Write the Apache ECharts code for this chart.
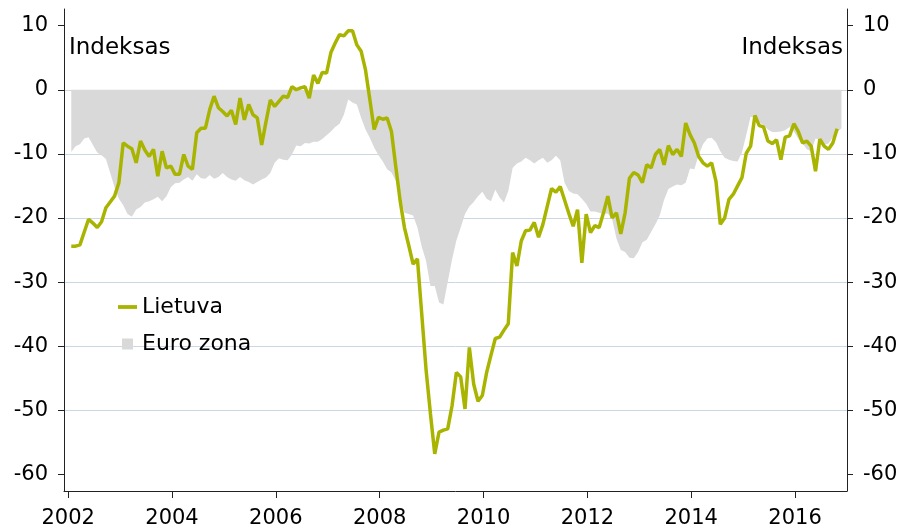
<!DOCTYPE html>
<html>
<head>
<meta charset="utf-8">
<script src="https://cdn.jsdelivr.net/npm/echarts@6/dist/echarts.min.js"></script>
<style>
  html, body { margin: 0; padding: 0; background: #fff; }
  #chart { width: 904px; height: 530px; }
</style>
</head>
<body>
<div id="chart"></div>
<script>
// monthly series, first observation January 2002
const startYear = 2002;
const monthShift = 0.06;

const lietuva = [
  -24.4, -24.4, -24.2, -22.2, -20.2, -20.8, -21.5, -20.6, -18.4, -17.5, -16.6, -14.5,
  -8.3, -8.8, -9.2, -11.4, -8.0, -9.4, -10.4, -9.3, -13.5, -9.6, -12.2, -11.9,
  -13.2, -13.2, -10.1, -11.9, -12.4, -6.7, -6.0, -6.0, -3.1, -1.0, -2.8, -3.4,
  -4.1, -3.2, -5.4, -1.3, -4.7, -2.3, -3.9, -4.4, -8.6, -5.0, -1.6, -2.6,
  -1.8, -1.0, -1.2, 0.5, 0.0, 0.3, 0.5, -1.3, 2.3, 1.0, 2.7, 2.6,
  5.8, 7.3, 8.6, 8.4, 9.2, 9.2, 7.0, 6.0, 3.1, -1.5, -6.2, -4.3,
  -4.6, -4.4, -6.5, -12.0, -17.3, -21.5, -24.3, -27.2, -26.4, -35.0, -43.7, -50.5,
  -56.8, -53.4, -53.1, -52.9, -49.3, -44.1, -44.8, -49.8, -40.2, -45.9, -48.6, -47.7,
  -44.1, -41.4, -38.8, -38.6, -37.5, -36.5, -25.4, -27.5, -23.6, -22.0, -21.9, -20.7,
  -23.0, -21.0, -18.2, -15.4, -16.0, -15.1, -17.2, -19.3, -21.3, -18.7, -27.0, -19.4,
  -22.3, -21.2, -21.5, -19.2, -16.6, -20.0, -19.2, -22.5, -19.2, -13.8, -12.9, -13.3,
  -14.5, -11.7, -12.2, -10.1, -9.3, -11.7, -8.7, -10.1, -9.3, -10.4, -5.2, -7.0,
  -8.3, -10.4, -11.4, -11.9, -11.4, -14.3, -21.0, -20.0, -17.1, -16.3, -15.0, -13.7,
  -9.9, -8.8, -4.0, -5.6, -5.8, -8.0, -8.4, -7.8, -10.9, -7.4, -7.2, -5.3,
  -6.5, -8.3, -8.0, -8.8, -12.7, -7.7, -8.8, -9.3, -8.3, -6.1
];

const euroZona = [
  -9.7, -8.8, -8.5, -7.6, -7.4, -8.6, -9.8, -10.2, -10.8, -13.0, -15.2, -17.0,
  -18.0, -19.4, -19.8, -18.7, -18.3, -17.6, -17.4, -17.1, -16.7, -17.4, -16.6, -15.2,
  -14.6, -14.5, -14.0, -13.6, -14.2, -13.2, -13.8, -13.9, -13.3, -13.9, -13.6, -13.0,
  -13.6, -14.0, -14.2, -13.6, -14.1, -14.4, -14.8, -14.4, -14.0, -13.7, -13.0, -11.4,
  -10.7, -10.9, -11.0, -10.1, -8.7, -8.8, -8.3, -8.4, -8.1, -8.1, -7.7, -7.1,
  -6.5, -5.8, -5.3, -3.9, -1.5, -2.0, -2.3, -4.4, -6.2, -7.5, -9.0, -10.2,
  -11.2, -12.4, -12.9, -14.2, -16.5, -19.2, -19.4, -19.6, -21.5, -24.5, -26.7, -30.6,
  -30.6, -33.2, -33.5, -30.0, -26.5, -23.5, -21.5, -19.4, -18.2, -17.5, -16.6, -15.9,
  -17.0, -17.4, -15.6, -16.8, -17.6, -15.8, -12.2, -11.5, -11.2, -10.6, -11.0, -11.5,
  -11.0, -10.6, -11.4, -11.0, -10.3, -11.0, -14.5, -15.8, -16.2, -16.3, -17.0, -17.8,
  -19.0, -19.0, -19.2, -19.4, -19.3, -20.2, -23.2, -25.0, -25.3, -26.2, -26.3, -25.3,
  -23.8, -23.4, -22.2, -21.0, -19.6, -17.2, -15.5, -15.1, -14.8, -14.9, -14.5, -12.3,
  -12.4, -10.2, -8.5, -7.6, -7.5, -8.2, -9.6, -10.6, -10.9, -11.1, -11.2, -9.8,
  -7.0, -4.2, -4.4, -5.1, -5.5, -6.2, -6.6, -6.6, -6.5, -6.3, -5.8, -6.5,
  -7.6, -8.4, -9.3, -9.6, -7.6, -7.8, -8.6, -8.4, -7.4, -6.6, -6.0
];

const yearTicks = [2002, 2004, 2006, 2008, 2010, 2012, 2014, 2016];
const valueTicks = [-60, -50, -40, -30, -20, -10, 0, 10];

const FONT = "DejaVu Sans";
const toPoints = vals => vals.map((v, i) => [startYear + monthShift + i / 12, v]);

const chart = echarts.init(document.getElementById("chart"));

const yAxisBase = {
  type: "value",
  min: -62.6,
  max: 12.6,
  minInterval: 10,
  maxInterval: 10,
  axisLine: { show: true, lineStyle: { color: "#222", width: 1 } },
  axisTick: { show: true, customValues: valueTicks, length: 6, lineStyle: { color: "#222" } },
  axisLabel: {
    customValues: valueTicks,
    formatter: v => String(v),
    fontFamily: FONT,
    fontSize: 21,
    color: "#000",
    margin: 16,
    padding: [4, 0, 0, 0],
  },
};

chart.setOption({
  animation: false,
  grid: { left: 64, right: 57, top: 9, bottom: 39 },
  xAxis: {
    type: "value",
    min: 2001.92,
    max: 2017,
    minInterval: 2,
    maxInterval: 2,
    axisLine: { show: true, onZero: false, lineStyle: { color: "#222", width: 1 } },
    axisTick: { show: true, customValues: yearTicks, length: 7, lineStyle: { color: "#222" } },
    axisLabel: {
      customValues: yearTicks,
      formatter: v => String(v),
      fontFamily: FONT,
      fontSize: 21,
      color: "#000",
      margin: 17,
    },
    splitLine: { show: false },
  },
  yAxis: [
    Object.assign({}, yAxisBase, {
      position: "left",
      splitLine: {
        show: true,
        showMinLine: false,
        showMaxLine: false,
        lineStyle: { color: "#cdd7e1", width: 1 },
      },
    }),
    Object.assign({}, yAxisBase, {
      position: "right",
      splitLine: { show: false },
    }),
  ],
  legend: {
    orient: "vertical",
    left: 118,
    top: 296,
    padding: 0,
    itemWidth: 19,
    itemHeight: 11,
    itemGap: 15,
    textStyle: { fontFamily: FONT, fontSize: 22, color: "#000" },
    data: [
      { name: "Lietuva", icon: "path://M0,0H20V4H0Z", itemStyle: { color: "#a9b400" } },
      { name: "Euro zona", icon: "path://M0,0H10V10H0Z", itemStyle: { color: "#d9d9d9" } },
    ],
  },
  graphic: [
    {
      type: "text",
      left: 69,
      top: 37,
      style: { text: "Indeksas", font: "23px " + FONT, fill: "#000" },
    },
    {
      type: "text",
      right: 61,
      top: 37,
      style: { text: "Indeksas", font: "23px " + FONT, fill: "#000" },
    },
  ],
  series: [
    {
      name: "Euro zona",
      type: "line",
      data: toPoints(euroZona),
      symbol: "none",
      lineStyle: { width: 0 },
      itemStyle: { color: "#d9d9d9" },
      areaStyle: { color: "#d9d9d9", origin: 0, opacity: 1 },
      z: 1,
    },
    {
      name: "Lietuva",
      type: "line",
      data: toPoints(lietuva),
      symbol: "none",
      lineStyle: { color: "#a9b400", width: 3.5 },
      itemStyle: { color: "#a9b400" },
      z: 3,
    },
  ],
});

window.addEventListener("resize", () => chart.resize());
</script>
</body>
</html>
